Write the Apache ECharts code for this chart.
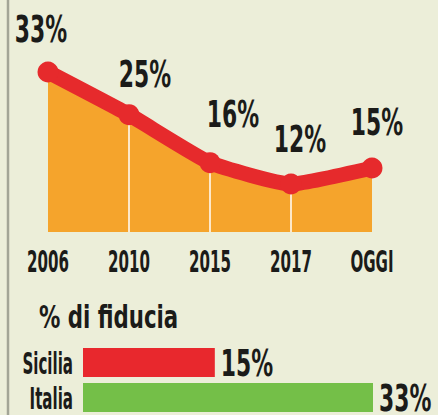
<!DOCTYPE html>
<html>
<head>
<meta charset="utf-8">
<script src="https://cdn.jsdelivr.net/npm/echarts@6/dist/echarts.min.js"></script>
<style>
html,body{margin:0;padding:0;background:#eceed9;}
#chart{width:438px;height:415px;}
</style>
</head>
<body>
<div id="chart"></div>
<script>
// ---- data ----
const years = ['2006', '2010', '2015', '2017', 'OGGI'];
const fiducia = [33, 25, 16, 12, 15];
const regions = ['Sicilia', 'Italia'];
const regionValues = [15, 33];
const barTitle = '% di fiducia';

// ---- styling helpers (not data) ----
const FONT = '"DejaVu Sans Condensed", "Liberation Sans Narrow", sans-serif';
const INK = '#1b1b19';
const pointLabelOffsets = [[-7, -9], [16, -6], [23, -14], [9, -11], [5, -12]];
const regionColors = ['#e8282d', '#74bf48'];
// horizontal condensing of the text, keyed by font size
const squeezeBySize = {38: 0.64, 31: 0.54, 32: 0.74};

const chart = echarts.init(document.getElementById('chart'), null, {renderer: 'svg'});

const option = {
  backgroundColor: '#eceed9',
  animation: false,
  title: {
    text: barTitle,
    left: 34,
    top: 296,
    textStyle: {fontFamily: FONT, fontWeight: 'bold', fontSize: 32, color: INK}
  },
  graphic: [{
    type: 'line',
    shape: {x1: 8, y1: 0, x2: 8, y2: 415},
    style: {stroke: '#a3a596', lineWidth: 2.5}
  }],
  grid: [
    {left: 48, right: 66, top: 72, height: 160, outerBoundsMode: 'none'},
    {left: 83, right: 65, top: 345, height: 70, outerBoundsMode: 'none'}
  ],
  xAxis: [
    {
      gridIndex: 0, type: 'category', data: years, boundaryGap: false,
      axisLine: {show: false}, axisTick: {show: false}, splitLine: {show: false},
      axisLabel: {interval: 0, fontFamily: FONT, fontWeight: 'bold', fontSize: 31, color: INK, margin: 13}
    },
    {
      gridIndex: 1, type: 'value', min: 0, max: 33, show: false
    }
  ],
  yAxis: [
    {gridIndex: 0, type: 'value', min: 3, max: 33, show: false},
    {
      gridIndex: 1, type: 'category', data: regions, inverse: true,
      axisLine: {show: false}, axisTick: {show: false},
      axisLabel: {interval: 0, fontFamily: FONT, fontWeight: 'bold', fontSize: 31, color: INK, margin: 10}
    }
  ],
  series: [
    {
      type: 'line', xAxisIndex: 0, yAxisIndex: 0, z: 1,
      data: fiducia, smooth: 0.15, showSymbol: false,
      lineStyle: {width: 0},
      areaStyle: {color: '#f5a42c', opacity: 1},
      silent: true
    },
    {
      type: 'bar', xAxisIndex: 0, yAxisIndex: 0, z: 2,
      data: fiducia.map((v, i) => (i === 0 || i === fiducia.length - 1) ? '-' : v),
      barWidth: 1.5, itemStyle: {color: '#ffffff'}, silent: true
    },
    {
      type: 'line', xAxisIndex: 0, yAxisIndex: 0, z: 3,
      data: fiducia.map((v, i) => ({value: v, label: {offset: pointLabelOffsets[i]}})),
      smooth: 0.15,
      symbol: 'circle', symbolSize: 21,
      itemStyle: {color: '#e62a2c'},
      lineStyle: {width: 15, color: '#e62a2c', cap: 'round', join: 'round'},
      label: {
        show: true, position: 'top', distance: 5,
        formatter: '{c}%',
        fontFamily: FONT, fontWeight: 'bold', fontSize: 38, color: INK
      }
    },
    {
      type: 'bar', xAxisIndex: 1, yAxisIndex: 1,
      data: regionValues.map((v, i) => ({value: v, itemStyle: {color: regionColors[i]}})),
      barWidth: 29,
      label: {
        show: true, position: 'right', distance: 6,
        formatter: '{c}%',
        fontFamily: FONT, fontWeight: 'bold', fontSize: 38, color: INK
      }
    }
  ]
};
chart.setOption(option);

function condenseTexts() {
  document.querySelectorAll('#chart text').forEach(t => {
    const fs = Math.round(parseFloat(getComputedStyle(t).fontSize));
    const k = squeezeBySize[fs];
    if (!k || t.getAttribute('data-condensed')) return;
    const w = t.getComputedTextLength();
    if (w > 0) {
      t.setAttribute('textLength', (w * k).toFixed(2));
      t.setAttribute('lengthAdjust', 'spacingAndGlyphs');
      t.setAttribute('data-condensed', '1');
    }
  });
}
condenseTexts();
chart.on('finished', condenseTexts);
</script>
</body>
</html>
